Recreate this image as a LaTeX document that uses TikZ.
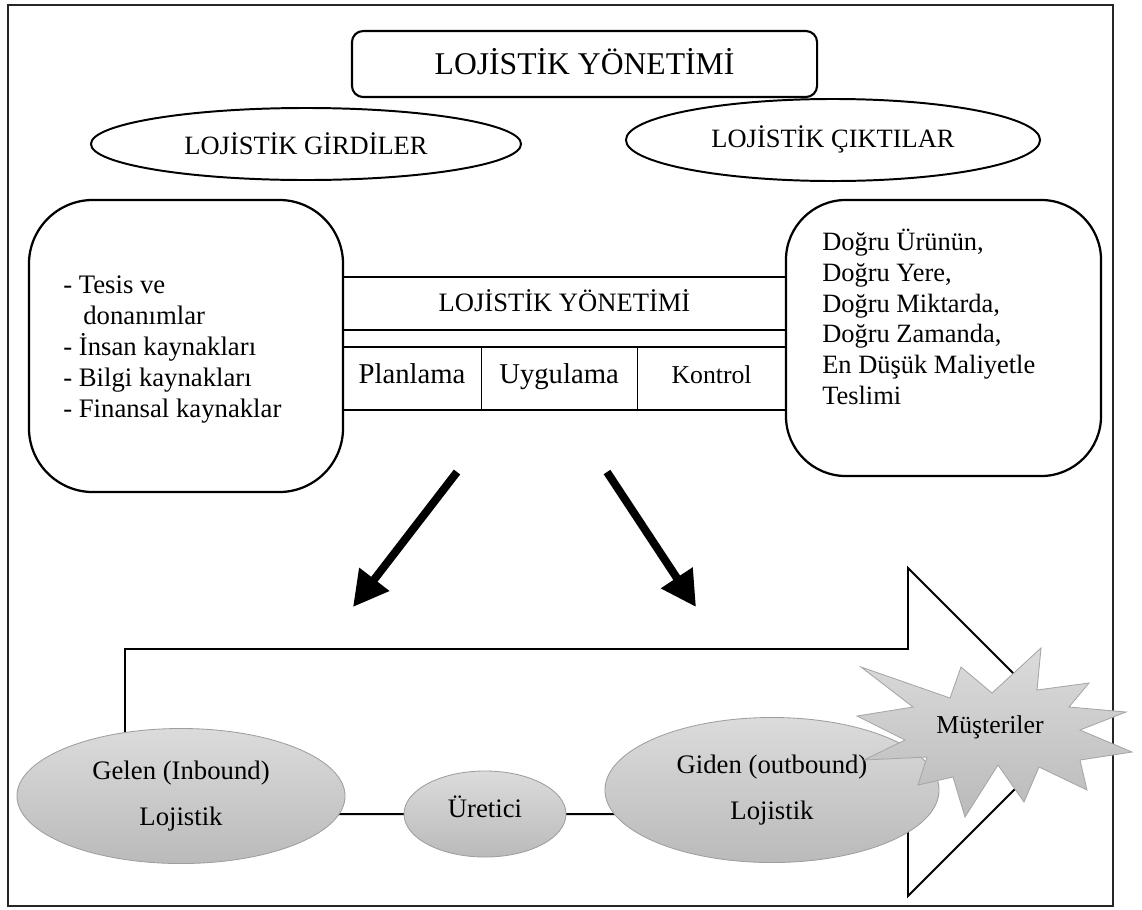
\documentclass[tikz,border=0pt]{standalone}
\usepackage{fontspec}
\setmainfont{Liberation Serif}
\usepackage{tikz}
\usetikzlibrary{shapes.geometric, arrows.meta, positioning, backgrounds}
\tikzset{
  titlebox/.style={rectangle, draw, line width=1.5pt, rounded corners=0.28cm,
                   minimum width=11.625cm, minimum height=1.65cm,
                   font=\fontsize{22.5}{27}\selectfont,
                   text height=18pt, text depth=2.4pt},
  headoval/.style={ellipse, draw, line width=1.4pt, inner sep=0pt,
                   font=\fontsize{18.8}{22}\selectfont},
  roundbox/.style={rectangle, draw, line width=1.6pt},
  listtext/.style={align=left, inner sep=0pt, anchor=base west},
  bandrow/.style={rectangle, draw, line width=1.9pt, inner sep=0pt},
  cell/.style={rectangle, draw, line width=0.6pt, inner sep=0pt, outer sep=0pt,
               minimum height=1.575cm, font=\fontsize{20.4}{24}\selectfont,
               text height=14pt, text depth=6.2pt},
  flowoval/.style={ellipse, draw=black!38, line width=0.6pt,
                   top color=black!14, bottom color=black!27,
                   font=\fontsize{19}{32.7}\selectfont, align=center, inner sep=0pt},
  fatarrow/.style={-{Triangle[length=0.875cm, width=0.9cm]}, line width=5.7pt},
  outline/.style={draw, line width=1.4pt},
}

\begin{document}
\begin{tikzpicture}[x=0.025cm, y=-0.025cm]
  \useasboundingbox (0,0) rectangle (1142,909);

  % top
  \node[titlebox] (title) at (584.5,64) {LOJİSTİK YÖNETİMİ};
  \node[headoval, minimum width=10.75cm, minimum height=1.8cm,
        text height=17pt, text depth=1.4pt] (girdi) at (306,144) {LOJİSTİK GİRDİLER};
  \node[headoval, minimum width=10.35cm, minimum height=2.05cm,
        text height=14pt, text depth=3.3pt] (cikti) at (833,140) {LOJİSTİK ÇIKTILAR};

  % inputs / management / outputs
  \node[roundbox, minimum width=7.85cm, minimum height=7.3cm,
        rounded corners=1.6cm] (inputs) at (186,346) {};
  \node[listtext, font=\fontsize{19}{22}\selectfont] (inlist) at (63,417)
       {- Tesis ve\\\hspace*{0.75em}donanımlar\\- İnsan kaynakları\\- Bilgi kaynakları\\- Finansal kaynaklar};
  \node[roundbox, minimum width=7.875cm, minimum height=6.9cm,
        rounded corners=1.5cm] (outputs) at (943.5,338) {};
  \node[listtext, font=\fontsize{18.8}{21.8}\selectfont] (outlist) at (822,404)
       {Doğru Ürünün,\\Doğru Yere,\\Doğru Miktarda,\\Doğru Zamanda,\\En Düşük Maliyetle\\Teslimi};

  \node[bandrow, minimum width=11.075cm, minimum height=1.325cm,
        font=\fontsize{18.9}{22}\selectfont, text height=14pt, text depth=2pt]
       (mgmt) at (564.5,303.5) {LOJİSTİK YÖNETİMİ};
  \node[cell, minimum width=3.45cm, anchor=west] (plan) at (343,378.5) {Planlama};
  \node[cell, minimum width=3.9cm, right=0pt of plan] (uygu) {Uygulama};
  \node[cell, minimum width=3.725cm, right=0pt of uygu,
        font=\fontsize{18.3}{22}\selectfont] (kont) {Kontrol};
  \draw[line width=1.9pt] (plan.north west) rectangle (kont.south east);

  \coordinate (ltail) at (457,472);
  \coordinate (lhead) at (353,607);
  \coordinate (rtail) at (607,472);
  \coordinate (rhead) at (696,607);
  \draw[fatarrow] (ltail) -- (lhead);
  \draw[fatarrow] (rtail) -- (rhead);

  % flow
  \node[flowoval, minimum width=8.2cm, minimum height=3.375cm] (gelen) at (181,796)
       {Gelen (Inbound)\\Lojistik};
  \node[flowoval, minimum width=4.05cm, minimum height=2.15cm,
        text height=12pt, text depth=6.4pt] (uretici) at (485,814) {Üretici};
  \node[flowoval, minimum width=8.35cm, minimum height=3.625cm] (giden) at (772,790)
       {Giden (outbound)\\Lojistik};

  \path[draw=black!35, line width=0.6pt, top color=black!14, bottom color=black!27]
    (861,667) -- (950,698) -- (961,667) -- (992,693) -- (1041,648) -- (1037,690)
    -- (1089,683) -- (1069,707) -- (1126,712) -- (1080,730) -- (1132,752)
    -- (1080,760) -- (1087,790) -- (1039,767) -- (1024,802) -- (998,765)
    -- (965,817) -- (953,777) -- (918,785) -- (927,757) -- (864,760)
    -- (905,740) -- (857,716) -- (913,707) -- cycle;
  \node[inner sep=0pt, anchor=base, font=\fontsize{18.3}{22}\selectfont]
       (musteri) at (990,733) {Müşteriler};

  \begin{scope}[on background layer]
    \draw[line width=1pt, draw=black!85] (8,5) rectangle (1113,906);
    \draw[outline] (125,814) -- (125,649) -- (908,649) -- (908,568)
      -- (1072,732) -- (908,896) -- (908,814) -- cycle;
  \end{scope}

\end{tikzpicture}
\end{document}
